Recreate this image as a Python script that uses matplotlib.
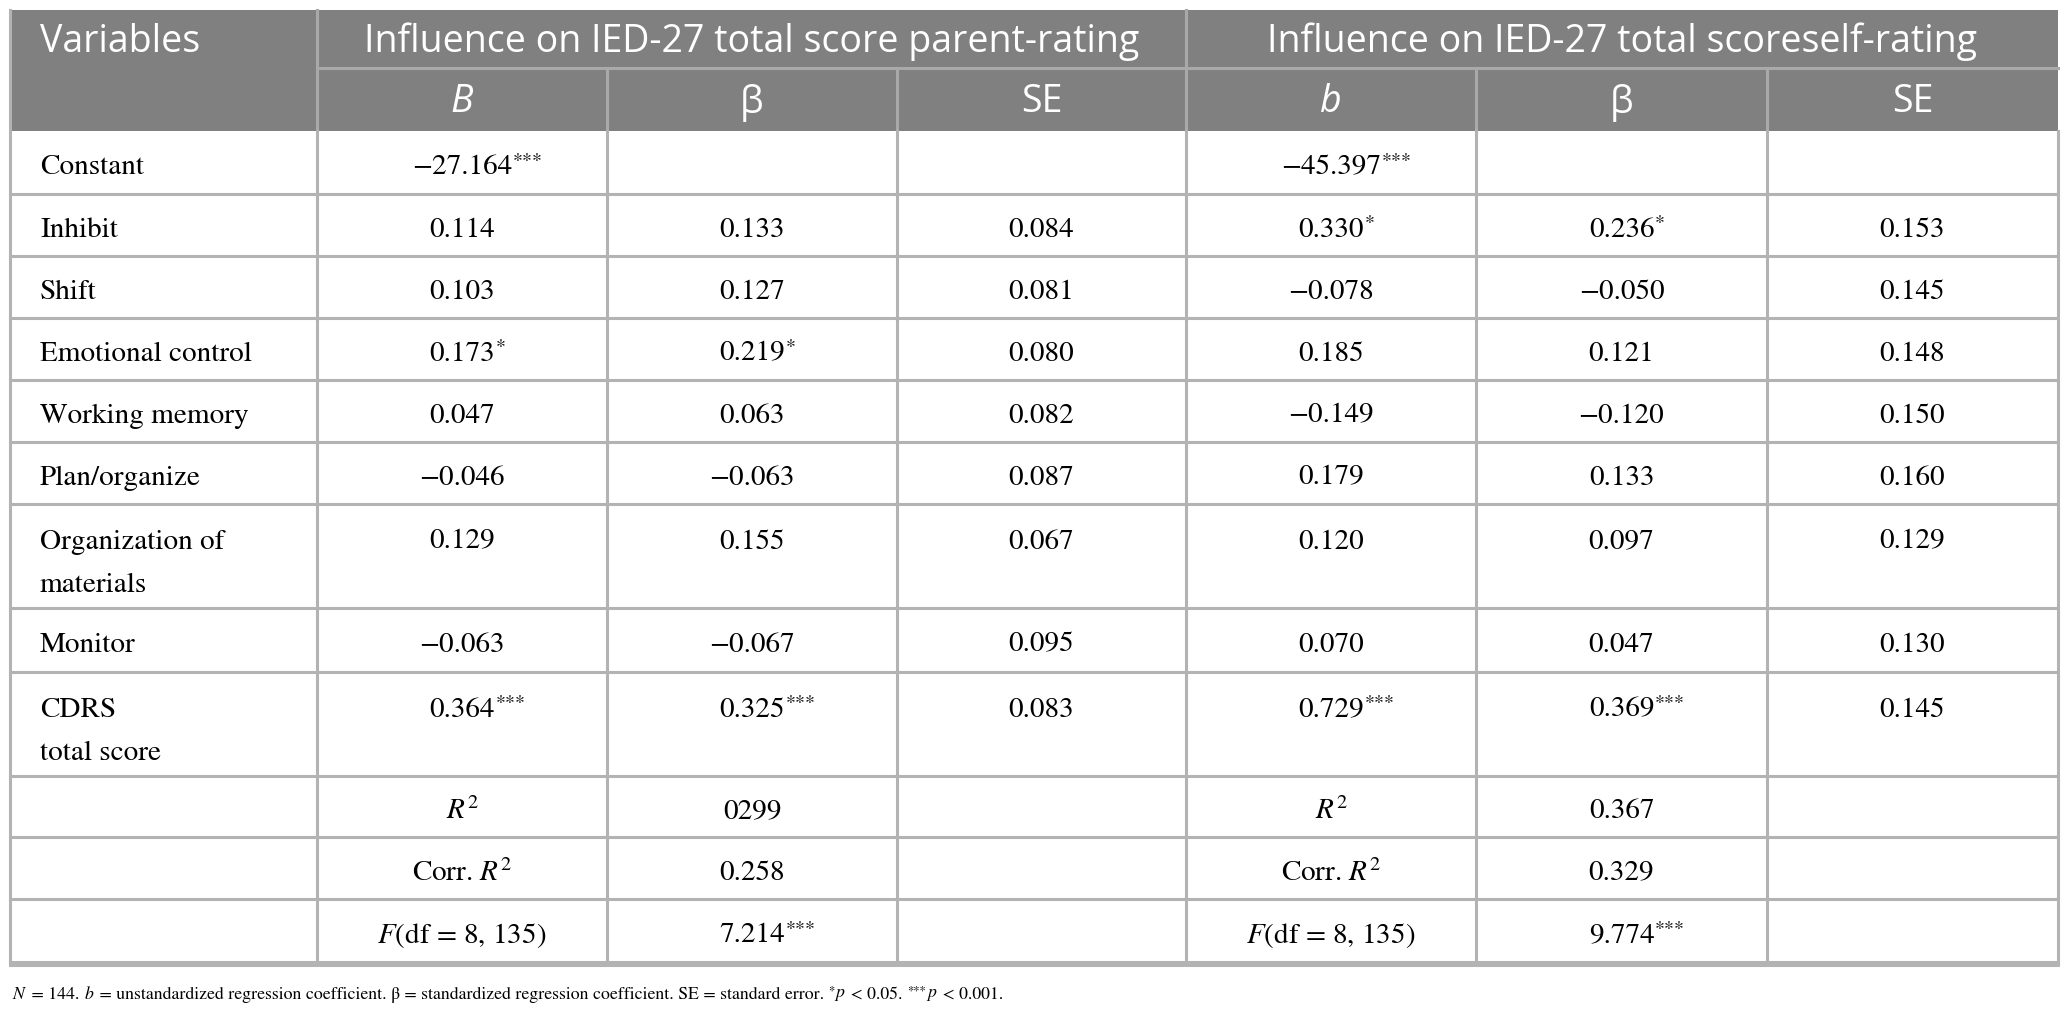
import matplotlib
matplotlib.use("Agg")
import matplotlib.pyplot as plt
from matplotlib.patches import Rectangle

plt.rcParams['font.family'] = ['STIXGeneral', 'DejaVu Serif']
plt.rcParams['mathtext.fontset'] = 'stix'

# table content
group_titles = ["Influence on IED-27 total score parent-rating",
                "Influence on IED-27 total scoreself-rating"]
sub_heads = ["B", "β", "SE", "b", "β", "SE"]
variables = ["Constant", "Inhibit", "Shift", "Emotional control", "Working memory",
             "Plan/organize", "Organization of\nmaterials", "Monitor", "CDRS\ntotal score",
             "", "", ""]
parent_b = ["−27.164***", "0.114", "0.103", "0.173*", "0.047", "−0.046", "0.129",
            "−0.063", "0.364***", "$R^2$", "Corr. $R^2$", "$F$(df = 8, 135)"]
parent_beta = ["", "0.133", "0.127", "0.219*", "0.063", "−0.063", "0.155",
               "−0.067", "0.325***", "0299", "0.258", "7.214***"]
parent_se = ["", "0.084", "0.081", "0.080", "0.082", "0.087", "0.067",
             "0.095", "0.083", "", "", ""]
self_b = ["−45.397***", "0.330*", "−0.078", "0.185", "−0.149", "0.179", "0.120",
          "0.070", "0.729***", "$R^2$", "Corr. $R^2$", "$F$(df = 8, 135)"]
self_beta = ["", "0.236*", "−0.050", "0.121", "−0.120", "0.133", "0.097",
             "0.047", "0.369***", "0.367", "0.329", "9.774***"]
self_se = ["", "0.153", "0.145", "0.148", "0.150", "0.160", "0.129",
           "0.130", "0.145", "", "", ""]
footnote = ["$N$", " = 144. ", "$b$", " = unstandardized regression coefficient. β = standardized "
            "regression coefficient. SE = standard error. ", "*", "$p$", " < 0.05. ", "***",
            "$p$", " < 0.001."]

# layout in pixels
col_x = [10, 317, 607, 897, 1186, 1476, 1767, 2058]
head_y = [10, 68, 131]
row_y = [131, 194, 256, 318, 380, 442, 504, 608, 672, 776, 837, 899, 962]

head_bg = "#808080"
head_line = "#a9a9a9"
grid = "#b3b3b3"
sans = ['Open Sans', 'DejaVu Sans']

fig = plt.figure(figsize=(20.7, 10.23), dpi=100)
ax = fig.add_axes([0, 0, 1, 1])
ax.set_xlim(0, 2070)
ax.set_ylim(1023, 0)
ax.axis('off')


def cell_text(x, y, s, fs, ha='center'):
    # number with tight superscript stars
    n = len(s) - len(s.rstrip('*'))
    body = s[:-n] if n else s
    t = ax.text(x, y, body, fontsize=fs, ha=ha, va='center')
    if n:
        ax.annotate("*" * n, xy=(1, 1), xycoords=t, xytext=(0.5, 1.5),
                    textcoords='offset points', fontsize=fs * 0.68,
                    ha='left', va='top')
    return t


# header block
ax.add_patch(Rectangle((col_x[0], head_y[0]), col_x[-1] - col_x[0], head_y[2] - head_y[0],
                       facecolor=head_bg, edgecolor='none', zorder=1))
ax.plot([col_x[1], col_x[-1]], [head_y[1], head_y[1]], color=head_line, lw=2.2, zorder=2)
for i, x in enumerate(col_x):
    if i in (1, 4):
        ax.plot([x, x], [head_y[0], head_y[2]], color=head_line, lw=2.2, zorder=2)
    elif i in (2, 3, 5, 6):
        ax.plot([x, x], [head_y[1], head_y[2]], color=head_line, lw=2.2, zorder=2)

hfs = 27
ax.text(40, (head_y[0] + head_y[1]) / 2 + 3, "Variables", family=sans, fontsize=hfs,
        color='white', ha='left', va='center', zorder=3)
for g, title in enumerate(group_titles):
    cx = (col_x[1 + 3 * g] + col_x[4 + 3 * g]) / 2
    ax.text(cx, (head_y[0] + head_y[1]) / 2 + 3, title, family=sans, fontsize=hfs,
            color='white', ha='center', va='center', zorder=3)
for j, h in enumerate(sub_heads):
    cx = (col_x[j + 1] + col_x[j + 2]) / 2
    style = 'italic' if h in ("B", "b") else 'normal'
    ax.text(cx, (head_y[1] + head_y[2]) / 2 + 3, h, family=sans, fontsize=hfs,
            fontstyle=style, color='white', ha='center', va='center', zorder=3)

# body grid
ax.plot([col_x[0], col_x[0]], [head_y[0], row_y[-1]], color=grid, lw=2.2)
for x in col_x[1:]:
    ax.plot([x, x], [row_y[0], row_y[-1]], color=grid, lw=2.2)
for y in row_y[1:-1]:
    ax.plot([col_x[0], col_x[-1]], [y, y], color=grid, lw=2.2)
ax.plot([col_x[0], col_x[-1]], [row_y[-1], row_y[-1]], color=grid, lw=2.2)
ax.plot([col_x[0], col_x[-1]], [row_y[-1] + 3, row_y[-1] + 3], color=grid, lw=2.2)

columns = [parent_b, parent_beta, parent_se, self_b, self_beta, self_se]
fs = 21
for r in range(len(variables)):
    top, bot = row_y[r], row_y[r + 1]
    double = "\n" in variables[r]
    yc = top + 38 if double else (top + bot) / 2 + 5
    lines = variables[r].split("\n")
    for k, line in enumerate(lines):
        ax.text(40, yc + 43 * k, line, fontsize=fs, ha='left', va='center')
    for j, col in enumerate(columns):
        cx = (col_x[j + 1] + col_x[j + 2]) / 2
        if col[r]:
            cell_text(cx, yc, col[r], fs)

# footnote, drawn piece by piece so the stars can sit raised
ffs = 12.8
base = ax.text(12, 999, footnote[0], fontsize=ffs, ha='left', va='baseline')
prev = base
for piece in footnote[1:]:
    if piece.strip('*') == "":
        prev = ax.annotate(piece, xy=(1, 1), xycoords=prev, xytext=(0, 1),
                           textcoords='offset points', fontsize=ffs * 0.7,
                           ha='left', va='top')
    else:
        prev = ax.annotate(piece, xy=(1, 0), xycoords=(prev, base),
                           xytext=(0, 0), textcoords='offset points', fontsize=ffs,
                           ha='left', va='bottom')

fig.savefig("out.png", dpi=100, facecolor='white')
